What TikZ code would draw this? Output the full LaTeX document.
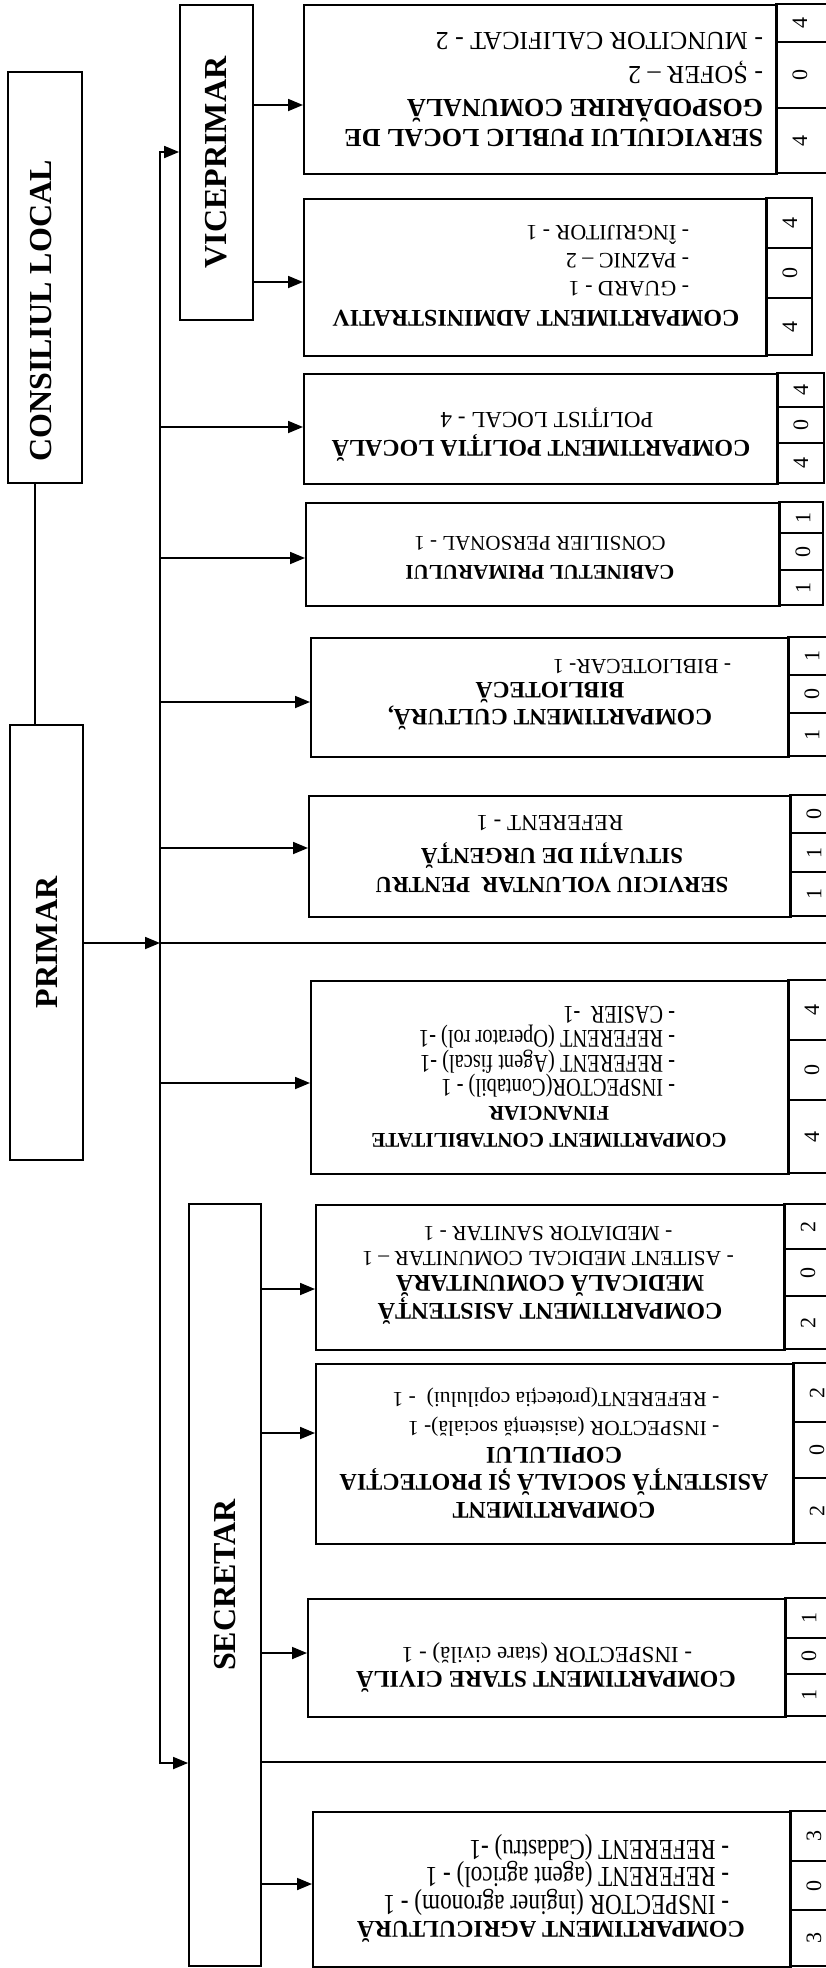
\documentclass[tikz,border=0pt]{standalone}
\usepackage{graphicx}
\usepackage{fontspec}
\setmainfont{Liberation Serif}
\newfontfamily\condserif[FakeStretch=0.8]{Liberation Serif}
\usetikzlibrary{arrows.meta}

\begin{document}
\begin{tikzpicture}[x=1pt,y=1pt,line width=1.8pt,
    >={Triangle[length=15pt,width=12pt]},
    dept/.style={draw,inner sep=0pt},
    sidebox/.style={draw,inner sep=0pt,font=\fontsize{32}{38}\selectfont\bfseries},
    txt/.style={rotate=180,inner sep=0pt},
    cellnum/.style={rotate=90,inner sep=0pt,font=\fontsize{22}{24}\selectfont}]
    \useasboundingbox[fill=white] (0,0) rectangle (826,-1968);
    \clip (0,0) rectangle (826,-1968);

    \node[sidebox,minimum width=74,minimum height=411] (cons) at (45,-277.5) {};
    \node[inner sep=0pt,font=\fontsize{32}{38}\selectfont\bfseries] (conslbl) at (41,-311) {\rotatebox{90}{CONSILIUL LOCAL}};
    \node[sidebox,minimum width=73,minimum height=315] (vice) at (216.5,-162.5) {\rotatebox{90}{VICEPRIMAR}};
    \node[sidebox,minimum width=73,minimum height=435] (prim) at (46.5,-942.5) {\rotatebox{90}{PRIMAR}};
    \node[sidebox,minimum width=72,minimum height=762] (secr) at (225,-1585) {\rotatebox{90}{SECRETAR}};

    \foreach \nm/\l/\t/\r/\b/\c/\da/\db/\na/\nb/\nc in {
        serv/303/4/776/173/840/42/108/4/0/4,
        admin/303/198/766/355/812/248/298/4/0/4,
        polit/303/373/777/483/824/407/443/4/0/4,
        cab/305/502/779/605/823/533/570/1/0/1,
        cult/310/637/788/756/840/675/713/1/0/1,
        volun/308/795/790/916/840/833/872/0/1/1,
        contab/310/980/788/1173/840/1040/1100/4/0/4,
        medic/315/1204/784/1349/840/1249/1296/2/0/2,
        social/315/1363/793/1543/840/1422/1478/2/0/2,
        civil/307/1598/785/1716/840/1638/1674/1/0/1,
        agri/312/1811/790/1966/840/1861/1910/3/0/3}
    {
        \node[dept,anchor=north west,minimum width={\r-\l},minimum height={\b-\t}] (\nm) at (\l,-\t) {};
        \draw (\r,-\t) rectangle (\c,-\b) (\r,-\da) -- (\c,-\da) (\r,-\db) -- (\c,-\db);
        \node[cellnum] (\nm n1) at ({\r+24},{-(\t+\da)/2}) {\na};
        \node[cellnum] (\nm n2) at ({\r+24},{-(\da+\db)/2}) {\nb};
        \node[cellnum] (\nm n3) at ({\r+24},{-(\db+\b)/2}) {\nc};
    }

    \node[txt,anchor=west,align=left,font=\fontsize{26}{30}\selectfont\bfseries] (servhead) at (764,-122.5) {SERVICIULUI PUBLIC LOCAL DE\\GOSPODĂRIRE COMUNALĂ};
    \node[txt,anchor=west,align=left,font=\fontsize{26}{34}\selectfont] (servlist) at (764,-57.5) {- ȘOFER – 2\\- MUNCITOR CALIFICAT - 2};

    \node[txt,font=\fontsize{24}{28}\selectfont\bfseries] (adminhead) at (536,-318) {COMPARTIMENT ADMINISTRATIV};
    \node[txt,anchor=west,align=left,font=\fontsize{22}{28}\selectfont] (adminlist) at (690,-261) {- GUARD - 1\\- PAZNIC – 2\\- ÎNGRIJITOR - 1};

    \node[txt,font=\fontsize{24}{28}\selectfont\bfseries] (polithead) at (541,-448) {COMPARTIMENT POLIȚIA LOCALĂ};
    \node[txt,font=\fontsize{23}{28}\selectfont] (politlist) at (547,-418) {POLIȚIST LOCAL - 4};

    \node[txt,font=\fontsize{21}{26}\selectfont\bfseries] (cabhead) at (540,-572) {CABINETUL PRIMARULUI};
    \node[txt,font=\fontsize{21}{26}\selectfont] (cablist) at (540,-543) {CONSILIER PERSONAL - 1};

    \node[txt,align=center,font=\fontsize{23.5}{27}\selectfont\bfseries] (culthead) at (550,-706.5) {COMPARTIMENT CULTURĂ,\\BIBLIOTECĂ};
    \node[txt,anchor=west,font=\fontsize{21.5}{26}\selectfont] (cultlist) at (732,-667) {- BIBLIOTECAR- 1};

    \node[txt,align=center,font=\fontsize{23}{29}\selectfont\bfseries] (volunhead) at (552,-867.5) {SERVICIU VOLUNTAR\ \ PENTRU\\SITUAȚII DE URGENȚĂ};
    \node[txt,font=\fontsize{23}{28}\selectfont] (volunlist) at (550,-823) {REFERENT - 1};

    \node[txt,align=center,font=\fontsize{21}{27}\selectfont\bfseries] (contabhead) at (549,-1126.5) {COMPARTIMENT CONTABILITATE\\FINANCIAR};
    \node[txt,anchor=west,align=left,font=\condserif\fontsize{25.5}{24.5}\selectfont] (contablist) at (676,-1051.5) {- INSPECTOR(Contabil) - 1\\- REFERENT (Agent fiscal) -1\\- REFERENT (Operator rol) -1\\- CASIER~ -1};

    \node[txt,align=center,font=\fontsize{24}{26}\selectfont\bfseries] (medichead) at (550,-1300) {COMPARTIMENT ASISTENȚĂ\\MEDICALĂ COMUNITARĂ};
    \node[txt,align=center,font=\fontsize{21.5}{25}\selectfont] (mediclist) at (548,-1245.5) {- ASITENT MEDICAL COMUNITAR – 1\\- MEDIATOR SANITAR - 1};

    \node[txt,align=center,font=\fontsize{24}{27.5}\selectfont\bfseries] (socialhead) at (554,-1482.5) {COMPARTIMENT\\ASISTENȚĂ SOCIALĂ ȘI PROTECȚIA\\COPILULUI};
    \node[txt,align=left,font=\fontsize{21.5}{29}\selectfont] (sociallist) at (556,-1412.5) {- INSPECTOR (asistență socială)- 1\\- REFERENT(protecția copilului)~ - 1};

    \node[txt,font=\fontsize{24}{28}\selectfont\bfseries] (civilhead) at (546,-1682) {COMPARTIMENT STARE CIVILĂ};
    \node[txt,font=\fontsize{23}{28}\selectfont] (civillist) at (547,-1653) {- INSPECTOR (stare civilă) - 1};

    \node[txt,font=\fontsize{24}{28}\selectfont\bfseries] (agrihead) at (551,-1932) {COMPARTIMENT AGRICULTURĂ};
    \node[txt,anchor=west,align=left,font=\condserif\fontsize{29}{27.5}\selectfont] (agrilist) at (730,-1874.5) {- INSPECTOR (inginer agronom) - 1\\- REFERENT (agent agricol) - 1\\- REFERENT (Cadastru) -1};

    \coordinate (bus) at (160,0);
    \coordinate (edgeA) at (826,-943);
    \coordinate (edgeB) at (826,-1762);

    \draw (cons.south -| 35,0) -- (prim.north -| 35,0);
    \draw[<->] (secr.west |- 0,-1763) -- (bus |- 0,-1763) -- (bus |- 0,-152) -- (vice.west |- 0,-152);
    \draw[->] (vice.east |- 0,-105) -- (serv.west |- 0,-105);
    \draw[->] (vice.east |- 0,-282) -- (admin.west |- 0,-282);
    \draw[->] (bus |- 0,-427) -- (polit.west |- 0,-427);
    \draw[->] (bus |- 0,-558) -- (cab.west |- 0,-558);
    \draw[->] (bus |- 0,-702) -- (cult.west |- 0,-702);
    \draw[->] (bus |- 0,-848) -- (volun.west |- 0,-848);
    \draw[->] (prim.east |- 0,-943) -- (bus |- 0,-943);
    \draw (bus |- 0,-943) -- (edgeA);
    \draw[->] (bus |- 0,-1083) -- (contab.west |- 0,-1083);
    \draw[->] (secr.east |- 0,-1289) -- (medic.west |- 0,-1289);
    \draw[->] (secr.east |- 0,-1433) -- (social.west |- 0,-1433);
    \draw[->] (secr.east |- 0,-1653) -- (civil.west |- 0,-1653);
    \draw (secr.east |- 0,-1762) -- (edgeB);
    \draw[->] (secr.east |- 0,-1884) -- (agri.west |- 0,-1884);
\end{tikzpicture}
\end{document}
